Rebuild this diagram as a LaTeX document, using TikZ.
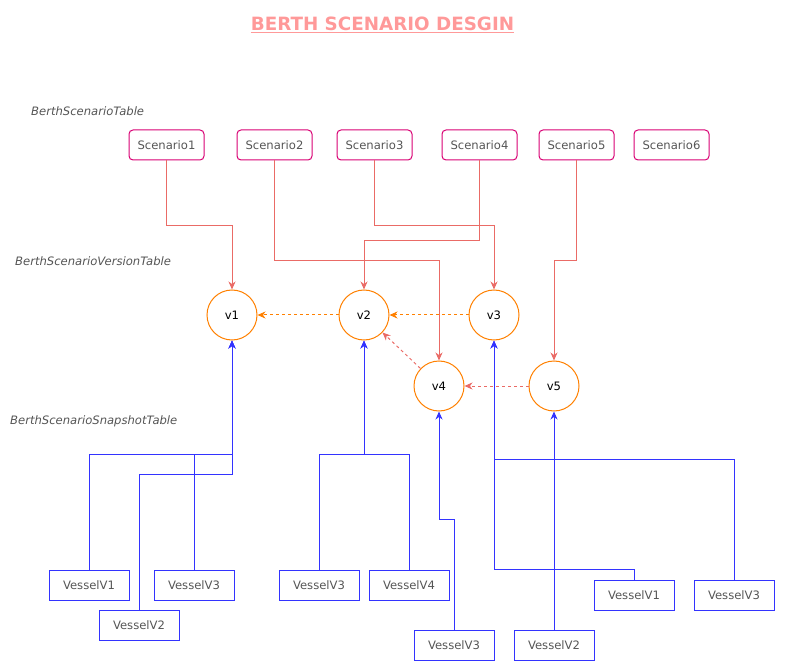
\documentclass[tikz,border=0pt]{standalone}
\usepackage{fontspec}
\setmainfont{DejaVu Sans}
\usetikzlibrary{positioning, arrows.meta}
\definecolor{scenarioPink}{HTML}{D80073}
\definecolor{linkRed}{HTML}{EA6B66}
\definecolor{versionOrange}{HTML}{FF8000}
\definecolor{vesselBlue}{HTML}{3333FF}
\definecolor{labelGray}{HTML}{555555}
\definecolor{titlePink}{HTML}{FF9999}
\newcommand{\boxfont}{\fontsize{11.6}{14}\selectfont}
\tikzstyle{scenarioBox} = [shape=rectangle, draw=scenarioPink, text=labelGray, line width=1pt,
	rounded corners=4pt, minimum width=75pt, minimum height=30pt, inner sep=0pt, font=\boxfont]
\tikzstyle{vesselBox} = [shape=rectangle, draw=vesselBlue, text=labelGray, line width=1pt,
	minimum width=80pt, minimum height=30pt, inner sep=0pt, font=\boxfont]
\tikzstyle{versionCircle} = [shape=circle, draw=versionOrange, text=black, line width=1pt,
	minimum size=50pt, inner sep=0pt, font=\boxfont]
\tikzstyle{tableLabel} = [anchor=west, inner sep=0pt, text=labelGray, font=\itshape\boxfont]
\tikzstyle{redArrow} = [line width=1pt, ->, >={Stealth[length=8pt,width=7pt,inset=2.5pt]}, draw=linkRed]
\tikzstyle{blueArrow} = [line width=1pt, ->, >={Stealth[length=8pt,width=7pt,inset=2.5pt]}, draw=vesselBlue]
\tikzstyle{dashArrow} = [line width=1pt, ->, >={Stealth[length=8pt,width=7pt,inset=2.5pt]},
	dash pattern=on 3pt off 3pt]

\begin{document}
\begin{tikzpicture}[x=1pt, y=-1pt]
  \useasboundingbox (0,0) rectangle (785,671);
  \node (title) at (382.5,25) [text=titlePink, font=\bfseries\fontsize{18.3}{22}\selectfont] {\underline{BERTH SCENARIO DESGIN}};

  \node (lblScenario) at (31,111) [tableLabel] {BerthScenarioTable};
  \node (lblVersion) at (15,261) [tableLabel] {BerthScenarioVersionTable};
  \node (lblSnapshot) at (10,421) [tableLabel] {BerthScenarioSnapshotTable};

  \node (sc1) at (166.5,145) [scenarioBox] {Scenario1};
  \node (sc2) at (274.5,145) [scenarioBox] {Scenario2};
  \node (sc3) at (374.5,145) [scenarioBox] {Scenario3};
  \node (sc4) at (479.5,145) [scenarioBox] {Scenario4};
  \node (sc5) at (576.5,145) [scenarioBox] {Scenario5};
  \node (sc6) at (671.5,145) [scenarioBox] {Scenario6};

  \node (v1) at (232,315) [versionCircle] {v1};
  \node (v2) at (364,315) [versionCircle] {v2};
  \node (v3) at (494,315) [versionCircle] {v3};
  \node (v4) at (439,386) [versionCircle] {v4};
  \node (v5) at (554,386) [versionCircle] {v5};

  \node (vesL1) at (89,585) [vesselBox] {VesselV1};
  \node (vesL3) at (194,585) [vesselBox] {VesselV3};
  \node (vesL2) at (139,625) [vesselBox] {VesselV2};
  \node (vesM3) at (319,585) [vesselBox] {VesselV3};
  \node (vesM4) at (409,585) [vesselBox] {VesselV4};
  \node (vesB3) at (454,645) [vesselBox] {VesselV3};
  \node (vesB2) at (554,645) [vesselBox] {VesselV2};
  \node (vesR1) at (634,595) [vesselBox] {VesselV1};
  \node (vesR3) at (734,595) [vesselBox] {VesselV3};

  % scenario -> version
  \draw [redArrow] (sc1.south) -- ++(0,65) -| (v1.north);
  \draw [redArrow] (sc2.south) -- ++(0,100) -| (v4.north);
  \draw [redArrow] (sc3.south) -- ++(0,65) -| (v3.north);
  \draw [redArrow] (sc4.south) -- ++(0,80) -| (v2.north);
  \draw [redArrow] (sc5.south) -- ++(0,100) -| (v5.north);

  % version history
  \draw [dashArrow, draw=versionOrange] (v2) -- (v1);
  \draw [dashArrow, draw=versionOrange] (v3) -- (v2);
  \draw [dashArrow, draw=linkRed] (v4) -- (v2);
  \draw [dashArrow, draw=linkRed] (v5) -- (v4);

  % snapshot -> version
  \draw [blueArrow] (vesL1.north) -- ++(0,-115) -| (v1.south);
  \draw [blueArrow] (vesL3.north) -- ++(0,-115) -| (v1.south);
  \draw [blueArrow] (vesL2.north) -- ++(0,-135) -| (v1.south);
  \draw [blueArrow] (vesM3.north) -- ++(0,-115) -| (v2.south);
  \draw [blueArrow] (vesM4.north) -- ++(0,-115) -| (v2.south);
  \draw [blueArrow] (vesB3.north) -- ++(0,-110) -| (v4.south);
  \draw [blueArrow] (vesB2.north) -- (v5.south);
  \draw [blueArrow] (vesR1.north) -- ++(0,-10) -| (v3.south);
  \draw [blueArrow] (vesR3.north) -- ++(0,-120) -| (v3.south);
\end{tikzpicture}
\end{document}
